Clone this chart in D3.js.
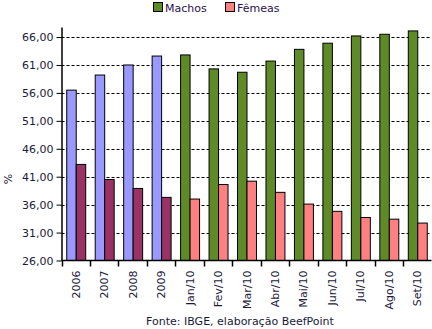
<!DOCTYPE html>
<html>
<head>
<meta charset="utf-8">
<script src="https://cdn.jsdelivr.net/npm/d3@7"></script>
<style>
  body { margin: 0; background: #fff; }
  svg { display: block; font-family: "DejaVu Sans", Verdana, sans-serif; }
</style>
</head>
<body>
<svg id="chart" width="432" height="329"></svg>
<script>
// Participação de machos e fêmeas no abate (%)
const categories = ["2006", "2007", "2008", "2009", "Jan/10", "Fev/10", "Mar/10", "Abr/10", "Mai/10", "Jun/10", "Jul/10", "Ago/10", "Set/10"];
const machos = [56.5, 59.2, 61.0, 62.6, 62.8, 60.3, 59.7, 61.7, 63.8, 64.9, 66.2, 66.5, 67.1];
const femeas = [43.2, 40.5, 38.9, 37.3, 37.0, 39.6, 40.2, 38.2, 36.1, 34.8, 33.7, 33.4, 32.7];
const yTicks = [26, 31, 36, 41, 46, 51, 56, 61, 66];
const annualCount = 4; // first four categories are yearly averages

const colors = {
  machosAnual: "#9999ff",
  femeasAnual: "#993366",
  machos: "#5e8a28",
  femeas: "#ff8080"
};

const svg = d3.select("#chart");
const plot = { left: 61.5, right: 431.5, top: 27, bottom: 260.5 };

const x = d3.scaleBand().domain(categories).range([plot.left, plot.right]).paddingInner(0).paddingOuter(0);
const inner = d3.scaleBand().domain(["m", "f"]).range([x.bandwidth() / 6 + 0.5, x.bandwidth() * 5 / 6 + 0.5]);
const y = d3.scaleLinear().domain([26, 67.8]).range([plot.bottom, plot.top]);

const fmt = v => v.toFixed(2).replace(".", ",");

// horizontal dashed grid
svg.append("g")
  .selectAll("line")
  .data(yTicks.filter(t => t > 26))
  .join("line")
  .attr("x1", plot.left)
  .attr("x2", plot.right)
  .attr("y1", d => Math.round(y(d)) + 0.5)
  .attr("y2", d => Math.round(y(d)) + 0.5)
  .attr("stroke", "#000")
  .attr("stroke-dasharray", "3,2");

// bars
const groups = svg.append("g")
  .selectAll("g")
  .data(categories.map((c, i) => ({ c, i, m: machos[i], f: femeas[i] })))
  .join("g")
  .attr("transform", d => `translate(${x(d.c)},0)`);

groups.append("rect")
  .attr("x", inner("m"))
  .attr("width", inner.bandwidth())
  .attr("y", d => y(d.m))
  .attr("height", d => y(26) - y(d.m))
  .attr("fill", d => d.i < annualCount ? colors.machosAnual : colors.machos)
  .attr("stroke", "#000")
  .attr("stroke-width", 1);

groups.append("rect")
  .attr("x", inner("f"))
  .attr("width", inner.bandwidth())
  .attr("y", d => y(d.f))
  .attr("height", d => y(26) - y(d.f))
  .attr("fill", d => d.i < annualCount ? colors.femeasAnual : colors.femeas)
  .attr("stroke", "#000")
  .attr("stroke-width", 1);

// y axis
const yAxis = svg.append("g")
  .attr("transform", `translate(${plot.left},0)`)
  .call(d3.axisLeft(y).tickValues(yTicks).tickFormat(fmt).tickSize(5).tickPadding(3).tickSizeOuter(0));
yAxis.select(".domain").attr("stroke", "#000").attr("stroke-width", 1.5);
yAxis.selectAll(".tick line").attr("stroke", "#000");
yAxis.selectAll("text").attr("font-size", 11).attr("fill", "#1a1a3a").attr("font-family", "DejaVu Sans, Verdana, sans-serif");

// x axis with ticks on category boundaries
const xAxisG = svg.append("g")
  .attr("transform", `translate(0,${plot.bottom})`);
xAxisG.append("line")
  .attr("x1", plot.left).attr("x2", plot.right)
  .attr("stroke", "#000").attr("stroke-width", 1.5);
xAxisG.selectAll("line.tk")
  .data(categories)
  .join("line")
  .attr("class", "tk")
  .attr("x1", d => Math.round(x(d)) + 0.5)
  .attr("x2", d => Math.round(x(d)) + 0.5)
  .attr("y1", 0).attr("y2", 6)
  .attr("stroke", "#000").attr("stroke-width", 1.5);
xAxisG.selectAll("text")
  .data(categories)
  .join("text")
  .attr("transform", d => `translate(${x(d) + x.bandwidth() / 2 + 4},10) rotate(-90)`)
  .attr("text-anchor", "end")
  .attr("font-size", 11)
  .attr("fill", "#1a1a3a")
  .text(d => d);

// y axis title
svg.append("text")
  .attr("transform", "translate(12,179) rotate(-90)")
  .attr("text-anchor", "middle")
  .attr("font-size", 11)
  .attr("fill", "#1a1a3a")
  .text("%");

// source note
svg.append("text")
  .attr("x", 240)
  .attr("y", 325)
  .attr("text-anchor", "middle")
  .attr("font-size", 11)
  .attr("fill", "#1a1a3a")
  .text("Fonte: IBGE, elaboração BeefPoint");

// legend
const legendItems = [
  { label: "Machos", color: colors.machos, x: 153 },
  { label: "Fêmeas", color: colors.femeas, x: 225 }
];
const leg = svg.append("g").selectAll("g").data(legendItems).join("g")
  .attr("transform", d => `translate(${d.x},2)`);
leg.append("rect")
  .attr("x", 0.5).attr("y", 0.5)
  .attr("width", 9).attr("height", 9)
  .attr("fill", d => d.color)
  .attr("stroke", "#000");
leg.append("text")
  .attr("x", 12).attr("y", 10)
  .attr("font-size", 11)
  .attr("fill", "#2a1050")
  .text(d => d.label);
</script>
</body>
</html>
